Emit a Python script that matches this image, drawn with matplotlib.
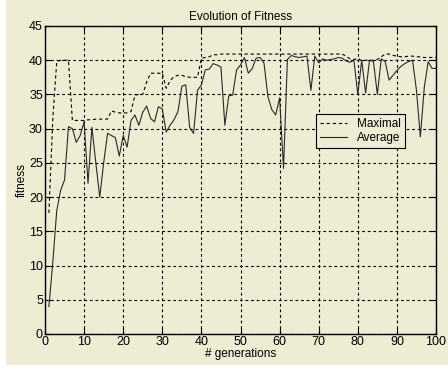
import matplotlib
matplotlib.use("Agg")
import matplotlib.pyplot as plt
from matplotlib.patches import Rectangle

# data
generations = list(range(1, 101))

average = [
    4, 10.5, 18, 21, 22.5, 30.3, 30, 28, 29, 31,
    22, 30.2, 25, 20, 25, 29.3, 29, 28.7, 26, 29,
    27.3, 31.2, 32, 30.5, 32.4, 33.3, 31.5, 31, 33.2, 32.9,
    29.5, 30.5, 31.3, 32.5, 36.2, 36.4, 30.2, 29.3, 35.6, 36.4,
    38.6, 38.7, 39.5, 39.3, 39, 30.5, 34.8, 34.9, 38.6, 39.3,
    40.4, 38.1, 38.8, 40.3, 40.4, 39.6, 34.7, 32.8, 32, 34.5,
    24.2, 40.1, 40.7, 40.5, 40.4, 40.5, 40.6, 35.6, 40.6, 39.6,
    40.2, 40, 40.1, 40.2, 40.4, 40.3, 39.9, 39.7, 40, 35,
    40, 35.2, 40, 39.8, 35, 40.2, 39.8, 37.1, 37.8, 38.5,
    39.1, 39.5, 39.8, 40, 35.6, 28.8, 36, 39.8, 38.8, 38.8,
]

maximal = [
    17.7, 31.5, 39.8, 40, 40, 40, 31.2, 31.2, 31.2, 31.2,
    31.3, 31.3, 31.4, 31.4, 31.4, 31.4, 32.6, 32.4, 32.3, 32.3,
    32.3, 32.5, 34.9, 35, 35, 36.8, 38.1, 38.1, 38.1, 38.1,
    35.9, 37, 37.6, 37.8, 37.8, 37.6, 37.5, 37.5, 37.5, 40.3,
    40.4, 40.5, 40.8, 40.8, 40.9, 40.9, 40.9, 40.9, 40.9, 40.9,
    40.9, 40.9, 40.9, 40.9, 40.9, 40.9, 40.9, 40.9, 40.9, 40.9,
    40.9, 40.9, 40.9, 40.9, 40.9, 40.9, 40.9, 40.9, 40.9, 40.9,
    40.9, 40.9, 40.9, 40.9, 40.9, 40.9, 40.6, 40.2, 40.1, 40.3,
    39.9, 40, 40, 40, 40.1, 40.5, 40.9, 40.9, 40.7, 40.6,
    40.5, 40.5, 40.6, 40.6, 40.5, 40.5, 40.4, 40.4, 40.4, 40.4,
]

bg = "#eeecd3"
plt.rcParams['font.family'] = ['Liberation Sans Narrow', 'Liberation Sans', 'DejaVu Sans']

fig = plt.figure(figsize=(4.48, 3.72), dpi=100, facecolor="white")
fig.patches.append(Rectangle((6 / 448, 7 / 372), 1, 1, transform=fig.transFigure,
                             facecolor=bg, edgecolor="none", zorder=-10))

ax = fig.add_axes([45 / 448, 38 / 372, 391 / 448, 308 / 372])
ax.set_facecolor(bg)

ax.plot(generations, maximal, color="black", lw=0.8, linestyle=(0, (3, 2.5)), label="Maximal")
ax.plot(generations, average, color="#2a2a2a", lw=0.8, label="Average")

ax.set_xlim(0, 100)
ax.set_ylim(0, 45)
ax.set_xticks(range(0, 101, 10))
ax.set_yticks(range(0, 46, 5))
ax.grid(True, color="black", linestyle=(0, (2.5, 2.5)), lw=0.8)
ax.tick_params(direction="in", length=4, top=True, right=True, labelsize=9, pad=1.5)
for s in ax.spines.values():
    s.set_linewidth(1.0)

ax.set_title("Evolution of Fitness", fontsize=8.5, pad=4)
ax.set_xlabel("# generations", fontsize=8.5, labelpad=0)
ax.set_ylabel("fitness", fontsize=8.5, labelpad=1)

leg = ax.legend(loc="upper left", bbox_to_anchor=(0.693, 0.714), borderaxespad=0,
                fancybox=False, framealpha=1, facecolor=bg, edgecolor="black",
                fontsize=8.5, handlelength=2.3, borderpad=0.35, labelspacing=0.15)
leg.get_frame().set_linewidth(0.8)

fig.savefig("out.png", dpi=100, facecolor=fig.get_facecolor())
